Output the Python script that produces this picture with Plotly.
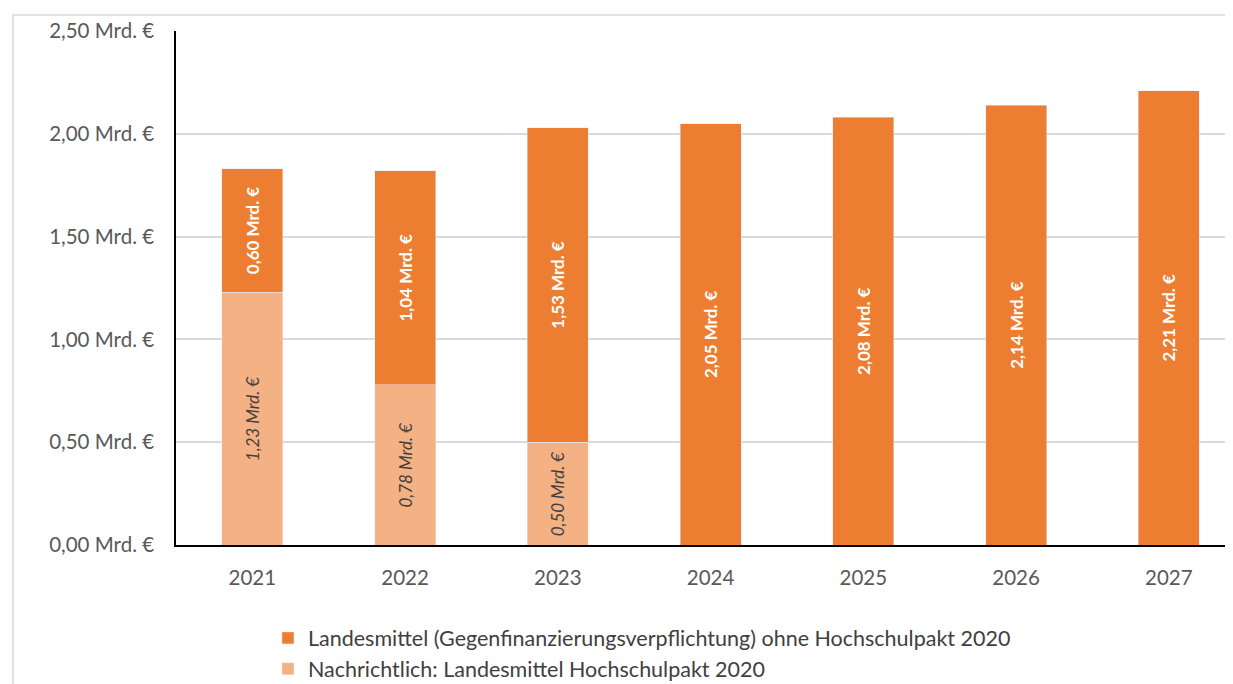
import plotly.graph_objects as go

years = ["2021", "2022", "2023", "2024", "2025", "2026", "2027"]
hochschulpakt = [1.23, 0.78, 0.50, None, None, None, None]
landesmittel = [0.60, 1.04, 1.53, 2.05, 2.08, 2.14, 2.21]
y_ticks = [0, 0.5, 1.0, 1.5, 2.0, 2.5]
y_ticktext = ["0,00 Mrd. €", "0,50 Mrd. €", "1,00 Mrd. €", "1,50 Mrd. €", "2,00 Mrd. €", "2,50 Mrd. €"]

name_dark = "Landesmittel (Gegenfinanzierungsverpflichtung) ohne Hochschulpakt 2020"
name_light = "Nachrichtlich: Landesmittel Hochschulpakt 2020"

def fmt(v):
    return "" if v is None else f"{v:.2f}".replace(".", ",") + " Mrd. €"

FONT = "Lato, 'Open Sans', sans-serif"

fig = go.Figure()
fig.add_trace(go.Bar(
    x=years, y=hochschulpakt, name=name_light, legendrank=2,
    marker=dict(color="#F4B183"),
    text=[fmt(v) for v in hochschulpakt], textposition="inside",
    insidetextanchor="middle", textangle=-90,
    textfont=dict(family=FONT, size=17, color="#404040", style="italic"),
    hoverinfo="skip",
))
fig.add_trace(go.Bar(
    x=years, y=landesmittel, name=name_dark, legendrank=1,
    marker=dict(color="#ED7D31"),
    text=[fmt(v) for v in landesmittel], textposition="inside",
    insidetextanchor="middle", textangle=-90,
    textfont=dict(family=FONT, size=17, color="white", weight="bold"),
    hoverinfo="skip",
))

fig.update_layout(
    barmode="stack", bargap=0.6,
    width=1225, height=676,
    margin=dict(l=168, r=0, t=23, b=139),
    paper_bgcolor="white", plot_bgcolor="white",
    font=dict(family=FONT, color="#595959", size=20),
    uniformtext=dict(minsize=13, mode="show"),
    legend=dict(
        orientation="v", traceorder="normal",
        x=0.087, xanchor="left", xref="paper",
        y=0.0985, yanchor="top", yref="container",
        font=dict(family=FONT, size=21.5, color="#404040"),
        itemwidth=30, tracegroupgap=0,
    ),
    showlegend=True,
    shapes=[dict(type="rect", xref="paper", yref="paper",
                 x0=-0.1542, x1=1.05, y0=-0.5, y1=1.031,
                 line=dict(color="#D9D9D9", width=1.5), fillcolor="rgba(0,0,0,0)",
                 layer="below")],
)
fig.update_xaxes(
    range=[-0.5, 6.42], showline=True, linecolor="black", linewidth=1.5,
    ticks="outside", ticklen=14, tickcolor="rgba(0,0,0,0)",
    tickfont=dict(family=FONT, size=20.5, color="#595959"),
    showgrid=False,
)
fig.update_yaxes(
    range=[0, 2.5], tickvals=y_ticks, ticktext=y_ticktext,
    showline=True, linecolor="black", linewidth=1.5,
    ticks="outside", ticklen=16, tickcolor="rgba(0,0,0,0)",
    tickfont=dict(family=FONT, size=20.5, color="#595959"),
    showgrid=True, gridcolor="#D9D9D9", gridwidth=1.5, zeroline=False,
)

fig.write_html("out.html")
